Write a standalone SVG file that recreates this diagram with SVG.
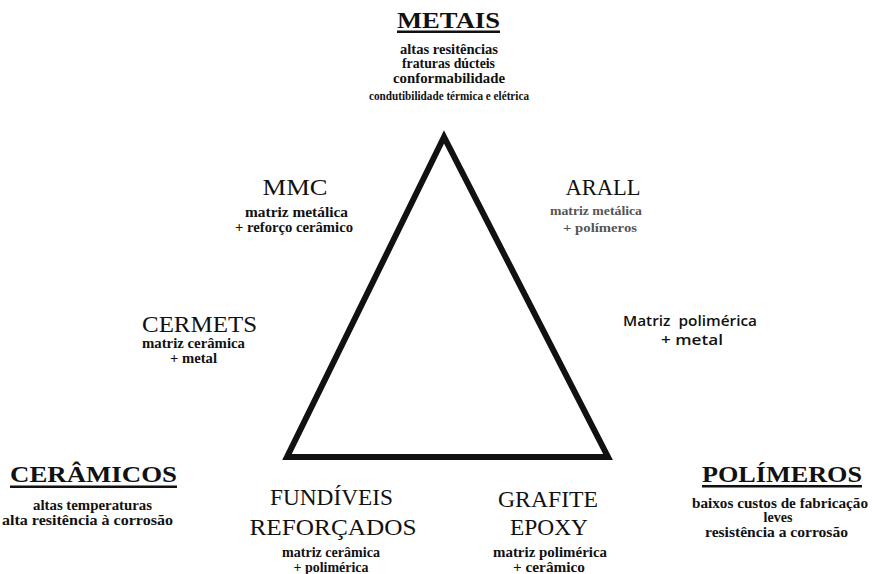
<svg xmlns="http://www.w3.org/2000/svg" width="872" height="574" viewBox="0 0 872 574">
<style>
text { font-family: "Liberation Serif", "Times New Roman", serif; fill: #111; text-anchor: middle; }
.h { font-size: 24px; font-weight: bold; }
.t { font-size: 23px; }
.s { font-size: 14px; font-weight: bold; }
.g { font-size: 13px; font-weight: bold; fill: #555; }
.sans { font-family: "Open Sans", "Liberation Sans", sans-serif; font-size: 15px; font-weight: 600; }
.ul { fill: #111; }
.edge { fill: none; stroke: #111; stroke-width: 6; stroke-linejoin: miter; }
</style>
<rect width="872" height="574" fill="#fff"/>
<g id="connectors">
  <polygon class="edge" points="444,137 287,457 608,457"/>
</g>
<g id="metais">
  <text class="h" x="448.5" y="28" textLength="103" lengthAdjust="spacingAndGlyphs">METAIS</text>
  <rect class="ul" x="397" y="30.5" width="103" height="2.5"/>
  <text class="s" x="449" y="54" textLength="98" lengthAdjust="spacingAndGlyphs">altas resitências</text>
  <text class="s" x="448.5" y="68" textLength="93" lengthAdjust="spacingAndGlyphs">fraturas dúcteis</text>
  <text class="s" x="449" y="83" textLength="112" lengthAdjust="spacingAndGlyphs">conformabilidade</text>
  <text class="s" x="449" y="100" textLength="160" lengthAdjust="spacingAndGlyphs" style="font-size:13px">condutibilidade térmica e elétrica</text>
</g>
<g id="mmc">
  <text class="t" x="295" y="195" textLength="65" lengthAdjust="spacingAndGlyphs">MMC</text>
  <text class="s" x="296.5" y="217" textLength="103" lengthAdjust="spacingAndGlyphs">matriz metálica</text>
  <text class="s" x="294" y="232" textLength="118" lengthAdjust="spacingAndGlyphs">+ reforço cerâmico</text>
</g>
<g id="arall">
  <text class="t" x="603" y="195" textLength="75" lengthAdjust="spacingAndGlyphs">ARALL</text>
  <text class="g" x="596" y="215" textLength="92" lengthAdjust="spacingAndGlyphs">matriz metálica</text>
  <text class="g" x="600" y="232" textLength="74" lengthAdjust="spacingAndGlyphs">+ polímeros</text>
</g>
<g id="cermets">
  <text class="t" x="199.5" y="332" textLength="115" lengthAdjust="spacingAndGlyphs">CERMETS</text>
  <text class="s" x="193.5" y="348" textLength="103" lengthAdjust="spacingAndGlyphs">matriz cerâmica</text>
  <text class="s" x="193.5" y="363" textLength="47" lengthAdjust="spacingAndGlyphs">+ metal</text>
</g>
<g id="matriz-polimerica-metal">
  <text class="sans" x="690" y="326" textLength="134" lengthAdjust="spacingAndGlyphs" xml:space="preserve">Matriz  polimérica</text>
  <text class="sans" x="692" y="345" textLength="62" lengthAdjust="spacingAndGlyphs">+ metal</text>
</g>
<g id="ceramicos">
  <text class="h" x="93.5" y="482" textLength="167" lengthAdjust="spacingAndGlyphs">CERÂMICOS</text>
  <rect class="ul" x="10" y="485.5" width="167" height="2.5"/>
  <text class="s" x="92.5" y="510" textLength="119" lengthAdjust="spacingAndGlyphs">altas temperaturas</text>
  <text class="s" x="87.5" y="525" textLength="171" lengthAdjust="spacingAndGlyphs">alta resitência à corrosão</text>
</g>
<g id="fundiveis">
  <text class="t" x="331.5" y="505" textLength="123" lengthAdjust="spacingAndGlyphs">FUNDÍVEIS</text>
  <text class="t" x="333" y="535" textLength="167" lengthAdjust="spacingAndGlyphs">REFORÇADOS</text>
  <text class="s" x="331" y="557" textLength="98" lengthAdjust="spacingAndGlyphs">matriz cerâmica</text>
  <text class="s" x="331" y="572" textLength="75" lengthAdjust="spacingAndGlyphs">+ polimérica</text>
</g>
<g id="grafite-epoxy">
  <text class="t" x="548" y="507" textLength="100" lengthAdjust="spacingAndGlyphs">GRAFITE</text>
  <text class="t" x="549" y="535" textLength="78" lengthAdjust="spacingAndGlyphs">EPOXY</text>
  <text class="s" x="550" y="557" textLength="114" lengthAdjust="spacingAndGlyphs">matriz polimérica</text>
  <text class="s" x="549" y="572" textLength="72" lengthAdjust="spacingAndGlyphs">+ cerâmico</text>
</g>
<g id="polimeros">
  <text class="h" x="782" y="482" textLength="160" lengthAdjust="spacingAndGlyphs">POLÍMEROS</text>
  <rect class="ul" x="702" y="485" width="160" height="2.5"/>
  <text class="s" x="780" y="508" textLength="176" lengthAdjust="spacingAndGlyphs">baixos custos de fabricação</text>
  <text class="s" x="778" y="522">leves</text>
  <text class="s" x="776.5" y="537" textLength="143" lengthAdjust="spacingAndGlyphs">resistência a corrosão</text>
</g>
</svg>
